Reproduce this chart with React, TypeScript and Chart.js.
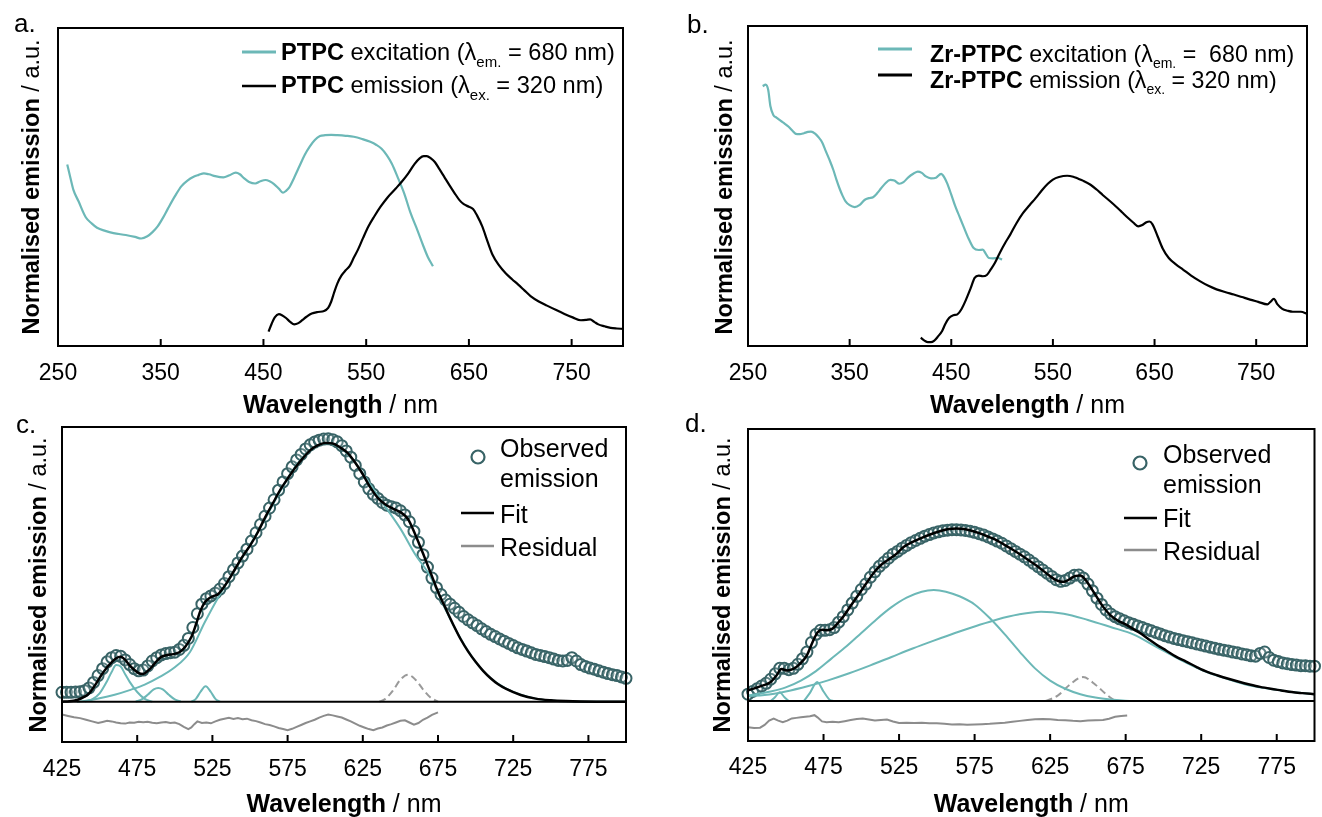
import React, { useEffect, useRef } from "react";
import { Chart, registerables } from "chart.js";

Chart.register(...registerables);

const FONT = "'Liberation Sans', Arial, Helvetica, sans-serif";
const TEAL = "#6cb8b7";
const OBS = "#386366";
const GREY = "#8c8c8c";
const DASH_GREY = "#9a9a9a";

// ---------------- Panel a ----------------
const aTicks = [250, 350, 450, 550, 650, 750];
const aExcitationX = [259, 262, 265, 270, 277, 283, 288, 296, 304, 316, 325, 331, 337, 342, 347, 352, 357, 364, 370, 376, 382, 387, 392, 397, 403, 411, 417, 423, 427, 431, 436, 442, 447, 452, 456, 460, 465, 469, 472, 475, 480, 485, 490, 495, 500, 505, 510, 516, 522, 530, 538, 546, 554, 560, 565, 570, 575, 581, 587, 593, 600, 605, 610, 615];
const aExcitationY = [0.571, 0.53, 0.491, 0.455, 0.405, 0.385, 0.372, 0.362, 0.355, 0.349, 0.343, 0.338, 0.345, 0.358, 0.376, 0.402, 0.432, 0.472, 0.502, 0.52, 0.532, 0.538, 0.543, 0.54, 0.534, 0.53, 0.537, 0.545, 0.54, 0.528, 0.516, 0.511, 0.518, 0.522, 0.518, 0.51, 0.495, 0.482, 0.488, 0.498, 0.53, 0.565, 0.6, 0.627, 0.648, 0.66, 0.663, 0.664, 0.663, 0.661, 0.658, 0.651, 0.642, 0.632, 0.62, 0.6, 0.573, 0.528, 0.48, 0.42, 0.363, 0.32, 0.28, 0.251];
const aEmissionX = [455, 458, 461, 465, 468, 472, 476, 480, 484, 488, 492, 497, 503, 509, 513, 516, 519, 522, 526, 530, 534, 538, 542, 547, 552, 558, 564, 571, 579, 585, 591, 597, 602, 606, 609, 613, 617, 621, 626, 631, 636, 641, 645, 650, 654, 658, 663, 668, 673, 679, 686, 692, 698, 704, 710, 718, 726, 735, 743, 751, 759, 764, 768, 772, 776, 782, 788, 794, 800];
const aEmissionY = [0.045, 0.07, 0.09, 0.1, 0.097, 0.088, 0.076, 0.068, 0.072, 0.082, 0.092, 0.102, 0.107, 0.11, 0.12, 0.14, 0.17, 0.197, 0.222, 0.238, 0.252, 0.278, 0.303, 0.34, 0.375, 0.408, 0.438, 0.468, 0.496, 0.518, 0.543, 0.572, 0.59, 0.597, 0.597, 0.59, 0.578, 0.558, 0.532, 0.506, 0.481, 0.458, 0.446, 0.438, 0.431, 0.41, 0.376, 0.33, 0.287, 0.255, 0.228, 0.21, 0.193, 0.175, 0.157, 0.14, 0.127, 0.113, 0.101, 0.09, 0.081, 0.082, 0.084, 0.076, 0.068, 0.062, 0.057, 0.055, 0.054];

// ---------------- Panel b ----------------
const bTicks = [250, 350, 450, 550, 650, 750];
const bExcitationX = [264.5, 267.4, 269.9, 272, 274.9, 278, 282, 286, 290, 294, 297, 301, 305, 309, 312, 316, 319, 323, 326, 330, 334, 337, 340, 343, 346, 350, 355, 360, 365, 369, 373, 377, 381, 385, 390, 394, 399, 403, 408, 413, 417, 421, 425, 430, 435, 440, 443, 446, 450, 454, 458, 462, 467, 472, 477, 481, 484, 487, 491, 496, 500];
const bExcitationY = [0.812, 0.817, 0.8, 0.75, 0.722, 0.714, 0.704, 0.695, 0.685, 0.672, 0.663, 0.662, 0.665, 0.669, 0.67, 0.664, 0.654, 0.636, 0.613, 0.583, 0.55, 0.52, 0.493, 0.47, 0.452, 0.44, 0.434, 0.441, 0.457, 0.462, 0.465, 0.477, 0.493, 0.508, 0.519, 0.517, 0.507, 0.512, 0.528, 0.539, 0.545, 0.541, 0.53, 0.524, 0.526, 0.538, 0.528, 0.508, 0.473, 0.436, 0.405, 0.374, 0.336, 0.306, 0.3, 0.301, 0.288, 0.275, 0.274, 0.275, 0.27];
const bEmissionX = [420, 424, 427, 430, 433, 437, 441, 444, 448, 452, 456, 460, 464.5, 469, 473, 477, 481, 485, 489, 493, 497.7, 503, 508, 514, 520.5, 527, 533, 539, 545, 550, 556, 564, 570, 574, 580, 587, 593, 599, 606, 612, 618, 624, 629, 634, 638, 642, 645, 648, 653, 658, 664, 671, 678, 686, 695, 703, 711, 720, 728, 736, 744, 752, 761, 764, 767.4, 771, 775.7, 781, 786, 794, 800];
const bEmissionY = [0.026, 0.016, 0.012, 0.012, 0.016, 0.03, 0.047, 0.068, 0.088, 0.096, 0.099, 0.115, 0.145, 0.18, 0.213, 0.22, 0.218, 0.222, 0.24, 0.26, 0.291, 0.322, 0.348, 0.383, 0.415, 0.44, 0.462, 0.486, 0.507, 0.52, 0.528, 0.532, 0.529, 0.524, 0.516, 0.504, 0.489, 0.472, 0.453, 0.436, 0.418, 0.4, 0.386, 0.374, 0.378, 0.387, 0.389, 0.38, 0.343, 0.305, 0.275, 0.255, 0.239, 0.22, 0.202, 0.188, 0.177, 0.168, 0.161, 0.153, 0.145, 0.138, 0.13, 0.138, 0.147, 0.13, 0.116, 0.11, 0.107, 0.107, 0.101];

// ---------------- Panel c ----------------
const cTicks = [425, 475, 525, 575, 625, 675, 725, 775];
const cObservedX = [425, 428, 431, 434, 437, 440, 443, 446, 449, 452, 455, 458, 461, 464, 467, 470, 473, 476, 479, 482, 485, 488, 491, 494, 497, 500, 503, 506, 509, 512, 515, 518, 521, 524, 527, 530, 533, 536, 539, 542, 545, 548, 551, 554, 557, 560, 563, 566, 569, 572, 575, 578, 581, 584, 587, 590, 593, 596, 599, 602, 605, 608, 611, 614, 617, 620, 623, 626, 629, 632, 635, 638, 641, 644, 647, 650, 653, 656, 659, 662, 665, 668, 671, 674, 677, 680, 683, 686, 689, 692, 695, 698, 701, 704, 707, 710, 713, 716, 719, 722, 725, 728, 731, 734, 737, 740, 743, 746, 749, 752, 755, 758, 761, 764, 767, 770, 773, 776, 779, 782, 785, 788, 791, 794, 797, 800];
const cObservedY = [0.034, 0.034, 0.034, 0.035, 0.036, 0.04, 0.05, 0.07, 0.095, 0.12, 0.145, 0.16, 0.168, 0.165, 0.152, 0.135, 0.12, 0.112, 0.115, 0.13, 0.148, 0.16, 0.17, 0.175, 0.178, 0.18, 0.19, 0.205, 0.23, 0.27, 0.32, 0.355, 0.375, 0.385, 0.395, 0.41, 0.43, 0.455, 0.48, 0.505, 0.53, 0.555, 0.585, 0.615, 0.645, 0.675, 0.705, 0.735, 0.77, 0.8, 0.83, 0.855, 0.88, 0.9, 0.92, 0.935, 0.945, 0.952, 0.956, 0.957, 0.954, 0.946, 0.932, 0.913, 0.89, 0.86, 0.83, 0.8, 0.775, 0.755, 0.74, 0.725, 0.715, 0.71, 0.705, 0.695, 0.68, 0.655, 0.62, 0.58, 0.535, 0.49, 0.45, 0.415, 0.39, 0.37, 0.355, 0.34, 0.325, 0.31, 0.298, 0.287, 0.277, 0.265, 0.255, 0.245, 0.237, 0.228, 0.22, 0.212, 0.204, 0.196, 0.19, 0.184, 0.178, 0.172, 0.168, 0.164, 0.16, 0.155, 0.15, 0.148, 0.15, 0.16, 0.148, 0.135, 0.128, 0.122, 0.118, 0.112, 0.107, 0.102, 0.098, 0.095, 0.09, 0.085];
const cFitX = [425, 430, 435, 440, 443, 447, 451, 455, 458, 461, 464, 467, 470, 473, 476, 479, 482, 485, 488, 491, 495, 499, 503, 507, 511, 514, 517, 520, 523, 526, 529, 532, 536, 540, 545, 550, 555, 560, 565, 570, 575, 580, 585, 590, 595, 600, 605, 610, 615, 620, 625, 630, 635, 640, 645, 650, 655, 660, 665, 670, 675, 680, 685, 690, 695, 700, 705, 710, 715, 720, 730, 740, 750, 760, 770, 785, 800];
const cFitY = [0.0, 0.001, 0.006, 0.018, 0.03, 0.06, 0.095, 0.125, 0.143, 0.158, 0.163, 0.152, 0.132, 0.116, 0.104, 0.101, 0.112, 0.128, 0.148, 0.163, 0.17, 0.173, 0.18, 0.2, 0.235, 0.28, 0.33, 0.362, 0.377, 0.385, 0.392, 0.412, 0.445, 0.482, 0.528, 0.568, 0.615, 0.67, 0.72, 0.77, 0.812, 0.852, 0.886, 0.915, 0.933, 0.942, 0.94, 0.925, 0.905, 0.87, 0.828, 0.78, 0.742, 0.718, 0.703, 0.69, 0.665, 0.607, 0.54, 0.47, 0.4, 0.34, 0.282, 0.228, 0.183, 0.145, 0.112, 0.085, 0.063, 0.047, 0.024, 0.011, 0.005, 0.002, 0.0005, 0, 0];
const cBandAX = [440, 445, 450, 455, 458, 461, 464, 467, 470, 475, 480, 485];
const cBandAY = [0, 0.008, 0.03, 0.075, 0.108, 0.133, 0.128, 0.1, 0.072, 0.035, 0.01, 0];
const cBandBX = [474, 478, 482, 486, 489, 492, 496, 500, 504];
const cBandBY = [0, 0.008, 0.025, 0.045, 0.05, 0.045, 0.025, 0.008, 0];
const cBandCX = [511, 514, 517, 520.5, 524, 527, 530];
const cBandCY = [0, 0.01, 0.035, 0.056, 0.035, 0.01, 0];
const cMainX = [435, 440, 450, 460, 470, 480, 490, 500, 510, 520, 530, 540, 550, 560, 570, 580, 590, 600, 610, 620, 630, 640, 650, 660, 670, 680, 690, 700, 710, 720, 730, 740, 750, 760, 770, 800];
const cMainY = [0, 0.002, 0.012, 0.025, 0.042, 0.062, 0.09, 0.125, 0.18, 0.29, 0.39, 0.48, 0.57, 0.665, 0.765, 0.855, 0.915, 0.94, 0.925, 0.87, 0.79, 0.71, 0.63, 0.535, 0.455, 0.335, 0.23, 0.145, 0.085, 0.048, 0.025, 0.011, 0.004, 0.001, 0, 0];
const cDashX = [636, 640, 645, 650, 655, 660, 665, 670, 675];
const cDashY = [0, 0.01, 0.04, 0.08, 0.098, 0.08, 0.045, 0.015, 0];
const cResidualX = [425, 429, 433, 437, 441, 445, 449, 452, 455, 458, 461, 464, 467, 470, 473, 476, 479, 482, 485, 488, 491, 494, 497, 500, 503, 506, 509, 511, 513, 515, 518, 521, 524, 527, 530, 533, 536, 539, 542, 545, 548, 551, 554, 557, 560, 563, 566, 569, 572, 575, 578, 581, 584, 587, 590, 593, 596, 599, 602, 605, 608, 611, 614, 617, 620, 623, 626, 629, 632, 635, 638, 641, 644, 647, 650, 653, 656, 659, 662, 665, 668, 671, 675];
const cResidualY = [-0.047, -0.052, -0.057, -0.06, -0.066, -0.072, -0.078, -0.074, -0.07, -0.072, -0.076, -0.079, -0.08, -0.076, -0.077, -0.073, -0.075, -0.073, -0.077, -0.079, -0.076, -0.074, -0.078, -0.076, -0.082, -0.092, -0.1, -0.094, -0.082, -0.072, -0.078, -0.076, -0.079, -0.072, -0.066, -0.062, -0.059, -0.063, -0.06, -0.064, -0.062, -0.068, -0.071, -0.076, -0.082, -0.085, -0.09, -0.096, -0.1, -0.104, -0.099, -0.092, -0.085, -0.078, -0.072, -0.066, -0.058, -0.052, -0.047, -0.05, -0.054, -0.058, -0.065, -0.072, -0.08, -0.088, -0.094, -0.1, -0.104, -0.098, -0.094, -0.087, -0.082, -0.076, -0.07, -0.068, -0.076, -0.084, -0.078, -0.066, -0.058, -0.048, -0.039];

// ---------------- Panel d ----------------
const dTicks = [425, 475, 525, 575, 625, 675, 725, 775];
const dObservedX = cObservedX;
const dObservedY = [0.025, 0.035, 0.045, 0.055, 0.065, 0.08, 0.1, 0.12, 0.12, 0.115, 0.12, 0.135, 0.155, 0.18, 0.215, 0.245, 0.26, 0.26, 0.262, 0.27, 0.29, 0.31, 0.335, 0.36, 0.385, 0.41, 0.43, 0.455, 0.475, 0.495, 0.51, 0.525, 0.54, 0.55, 0.562, 0.572, 0.582, 0.59, 0.598, 0.606, 0.612, 0.618, 0.622, 0.626, 0.628, 0.63, 0.63, 0.629, 0.627, 0.624, 0.62, 0.615, 0.61, 0.603, 0.596, 0.588, 0.58, 0.57, 0.56, 0.55, 0.54, 0.53, 0.518, 0.506, 0.494, 0.482, 0.47, 0.458, 0.446, 0.44, 0.443, 0.452, 0.462, 0.463, 0.452, 0.43, 0.405, 0.378, 0.355, 0.335, 0.32, 0.31, 0.302, 0.295, 0.288, 0.282, 0.276, 0.27, 0.264, 0.258, 0.252, 0.246, 0.24, 0.235, 0.23, 0.226, 0.222, 0.218, 0.214, 0.21, 0.206, 0.202, 0.198, 0.194, 0.19, 0.187, 0.184, 0.18, 0.177, 0.173, 0.17, 0.166, 0.165, 0.175, 0.18, 0.16, 0.15, 0.145, 0.14, 0.137, 0.134, 0.132, 0.13, 0.13, 0.128, 0.128];
const dFitX = [425, 433, 440, 444, 447, 451, 455, 459, 464, 468, 471, 474, 477, 481, 485, 488, 493, 498, 503, 508, 513, 518, 523, 528, 534, 540, 546, 552, 558, 563, 568, 573, 578, 584, 590, 595, 600, 606, 612, 617, 622, 627, 630, 633, 636, 639, 642, 645, 648, 651, 655, 660, 665, 670, 675, 680, 685, 690, 696, 702, 708, 715, 722, 729, 736, 743, 750, 757, 764, 771, 778, 785, 792, 800];
const dFitY = [0.039, 0.054, 0.07, 0.095, 0.118, 0.112, 0.118, 0.135, 0.168, 0.22, 0.252, 0.262, 0.26, 0.266, 0.29, 0.31, 0.35, 0.39, 0.43, 0.47, 0.5, 0.52, 0.54, 0.566, 0.585, 0.6, 0.613, 0.624, 0.632, 0.634, 0.632, 0.626, 0.617, 0.604, 0.59, 0.573, 0.557, 0.536, 0.513, 0.494, 0.472, 0.451, 0.442, 0.438, 0.442, 0.452, 0.46, 0.461, 0.448, 0.425, 0.39, 0.347, 0.315, 0.295, 0.282, 0.265, 0.248, 0.228, 0.205, 0.185, 0.164, 0.145, 0.125, 0.107, 0.094, 0.082, 0.071, 0.061, 0.052, 0.045, 0.039, 0.033, 0.029, 0.025];
const dBandAX = [425, 440, 450, 460, 470, 480, 490, 500, 510, 520, 530, 540, 548, 556, 565, 575, 585, 595, 605, 615, 625, 635, 645, 655, 665, 680, 800];
const dBandAY = [0.02, 0.035, 0.05, 0.075, 0.11, 0.155, 0.2, 0.25, 0.3, 0.345, 0.38, 0.402, 0.408, 0.402, 0.385, 0.355, 0.305, 0.245, 0.18, 0.12, 0.075, 0.045, 0.025, 0.013, 0.006, 0.0, 0.0];
const dBandBX = [425, 436, 450, 465, 478, 492, 506, 520, 534, 548, 562, 576, 590, 604, 619, 634, 650, 665, 680, 695, 710, 725, 740, 755, 770, 785, 800];
const dBandBY = [0.018, 0.022, 0.035, 0.055, 0.076, 0.102, 0.131, 0.162, 0.193, 0.222, 0.25, 0.276, 0.3, 0.318, 0.328, 0.321, 0.298, 0.272, 0.245, 0.2, 0.155, 0.115, 0.085, 0.06, 0.045, 0.033, 0.025];
const dBandCX = [440, 443, 446, 449, 452];
const dBandCY = [0, 0.015, 0.032, 0.015, 0];
const dBandDX = [462, 466, 470.8, 475, 479, 482];
const dBandDY = [0, 0.03, 0.07, 0.035, 0.005, 0];
const dDashX = [622, 630, 638, 646.7, 655, 662, 668];
const dDashY = [0, 0.02, 0.06, 0.088, 0.06, 0.025, 0];
const dResidualX = [425, 429, 433, 436, 439, 442, 445, 448, 451, 454, 457, 460, 463, 466, 469, 471, 474, 477, 481, 485, 489, 493, 497, 501, 505, 509, 513, 517, 521, 525, 530, 535, 540, 545, 550, 555, 560, 565, 570, 575, 580, 585, 590, 595, 600, 605, 610, 615, 620, 625, 630, 635, 640, 645, 650, 655, 660, 664, 668, 672, 676];
const dResidualY = [-0.096, -0.099, -0.098, -0.088, -0.072, -0.065, -0.072, -0.078, -0.072, -0.064, -0.062, -0.06, -0.058, -0.056, -0.052, -0.06, -0.075, -0.078, -0.076, -0.078, -0.074, -0.07, -0.066, -0.064, -0.068, -0.072, -0.07, -0.068, -0.075, -0.081, -0.08, -0.081, -0.08, -0.082, -0.082, -0.084, -0.086, -0.085, -0.087, -0.086, -0.085, -0.084, -0.082, -0.08, -0.076, -0.073, -0.07, -0.067, -0.066, -0.067, -0.07, -0.071, -0.073, -0.074, -0.072, -0.071, -0.07, -0.065, -0.058, -0.055, -0.053];

// ---------------- helpers ----------------
const pts = (xs: number[], ys: number[]) => xs.map((x, i) => ({ x, y: ys[i] }));

const curve = (xs: number[], ys: number[], color: string, width: number, order: number, extra: any = {}) => ({
  data: pts(xs, ys),
  showLine: true,
  borderColor: color,
  backgroundColor: color,
  borderWidth: width,
  pointRadius: 0,
  pointHoverRadius: 0,
  cubicInterpolationMode: "monotone",
  fill: false,
  order,
  ...extra,
});

const observed = (xs: number[], ys: number[]) => ({
  data: pts(xs, ys),
  showLine: false,
  pointRadius: 5.5,
  pointHoverRadius: 5.5,
  pointBorderColor: OBS,
  pointBackgroundColor: "rgba(255,255,255,0.2)",
  pointBorderWidth: 2,
  order: 20,
  clip: false,
});

type Part = { t: string; b?: boolean; sub?: boolean };
type Marker =
  | { kind: "line"; color: string; width: number; x1: number; x2: number; y: number }
  | { kind: "circle"; x: number; y: number; r: number };
type Row = { x: number; y: number; parts: Part[] };

interface PanelSpec {
  id: string;
  left: number;
  top: number;
  width: number;
  height: number;
  pad: { left: number; top: number; right: number };
  axisHeight: number;
  tickPadding: number;
  xMin: number;
  xMax: number;
  yMin: number;
  yMax: number;
  ticks: number[];
  makeDatasets: () => any[];
  label: { t: string; x: number; y: number };
  xTitleBaseline: number;
  yTitle: { x: number; y: number };
  separator: boolean;
  markers: Marker[];
  rows: Row[];
  legendSize: number;
}

function drawRich(ctx: CanvasRenderingContext2D, parts: Part[], x: number, y: number, size: number, align: "left" | "center") {
  const fontOf = (p: Part) => `${p.b ? "bold " : ""}${p.sub ? Math.round(size * 0.62) : size}px ${FONT}`;
  const widths = parts.map((p) => {
    ctx.font = fontOf(p);
    return ctx.measureText(p.t).width;
  });
  const total = widths.reduce((s, w) => s + w, 0);
  let cx = align === "center" ? x - total / 2 : x;
  ctx.textAlign = "left";
  parts.forEach((p, i) => {
    ctx.font = fontOf(p);
    ctx.fillText(p.t, cx, p.sub ? y + size * 0.28 : y);
    cx += widths[i];
  });
}

function framePlugin(spec: PanelSpec) {
  return {
    id: "frame_" + spec.id,
    afterDatasetsDraw(chart: any) {
      const ctx: CanvasRenderingContext2D = chart.ctx;
      const a = chart.chartArea;
      const xs = chart.scales.x;
      const ys = chart.scales.y;
      ctx.save();
      ctx.strokeStyle = "#000";
      ctx.lineWidth = 2;
      ctx.strokeRect(a.left, a.top, a.right - a.left, a.bottom - a.top);
      if (spec.separator) {
        const y0 = ys.getPixelForValue(0);
        ctx.beginPath();
        ctx.moveTo(a.left, y0);
        ctx.lineTo(a.right, y0);
        ctx.stroke();
      }
      for (const v of spec.ticks) {
        if (v <= spec.xMin || v >= spec.xMax) continue;
        const px = xs.getPixelForValue(v);
        ctx.beginPath();
        ctx.moveTo(px, a.bottom);
        ctx.lineTo(px, a.bottom - 7);
        ctx.stroke();
      }
      ctx.fillStyle = "#000";
      ctx.textBaseline = "alphabetic";
      drawRich(ctx, [{ t: "Wavelength", b: true }, { t: " / nm" }], (a.left + a.right) / 2, spec.xTitleBaseline, 25, "center");
      ctx.save();
      ctx.translate(spec.yTitle.x, spec.yTitle.y);
      ctx.rotate(-Math.PI / 2);
      ctx.textBaseline = "middle";
      drawRich(ctx, [{ t: "Normalised emission", b: true }, { t: " / a.u." }], 0, 0, 23.5, "center");
      ctx.restore();
      ctx.textBaseline = "alphabetic";
      ctx.font = `26px ${FONT}`;
      ctx.textAlign = "left";
      ctx.fillText(spec.label.t, spec.label.x, spec.label.y);
      for (const m of spec.markers) {
        if (m.kind === "line") {
          ctx.strokeStyle = m.color;
          ctx.lineWidth = m.width;
          ctx.beginPath();
          ctx.moveTo(m.x1, m.y);
          ctx.lineTo(m.x2, m.y);
          ctx.stroke();
        } else {
          ctx.strokeStyle = OBS;
          ctx.fillStyle = "#fff";
          ctx.lineWidth = 2.2;
          ctx.beginPath();
          ctx.arc(m.x, m.y, m.r, 0, Math.PI * 2);
          ctx.fill();
          ctx.stroke();
        }
      }
      ctx.fillStyle = "#000";
      for (const r of spec.rows) drawRich(ctx, r.parts, r.x, r.y, spec.legendSize, "left");
      ctx.restore();
    },
  };
}

// ---------------- panel specs ----------------
const panels: PanelSpec[] = [
  {
    id: "a", left: 0, top: 0, width: 660, height: 420,
    pad: { left: 58, top: 28, right: 37 }, axisHeight: 74, tickPadding: 14,
    xMin: 250, xMax: 800, yMin: 0, yMax: 1, ticks: aTicks,
    makeDatasets: () => [
      curve(aEmissionX, aEmissionY, "#000", 2.2, 1),
      curve(aExcitationX, aExcitationY, TEAL, 2.2, 2),
    ],
    label: { t: "a.", x: 14, y: 32 },
    xTitleBaseline: 413,
    yTitle: { x: 33, y: 187 },
    separator: false,
    markers: [
      { kind: "line", color: TEAL, width: 3, x1: 242, x2: 276, y: 52 },
      { kind: "line", color: "#000", width: 2.5, x1: 242, x2: 276, y: 86 },
    ],
    rows: [
      { x: 281, y: 60, parts: [{ t: "PTPC", b: true }, { t: " excitation (λ" }, { t: "em.", sub: true }, { t: " = 680 nm)" }] },
      { x: 281, y: 93, parts: [{ t: "PTPC", b: true }, { t: " emission (λ" }, { t: "ex.", sub: true }, { t: " = 320 nm)" }] },
    ],
    legendSize: 23.6,
  },
  {
    id: "b", left: 660, top: 0, width: 662, height: 420,
    pad: { left: 88, top: 26, right: 15 }, axisHeight: 74, tickPadding: 14,
    xMin: 250, xMax: 800, yMin: 0, yMax: 1, ticks: bTicks,
    makeDatasets: () => [
      curve(bEmissionX, bEmissionY, "#000", 2.2, 1),
      curve(bExcitationX, bExcitationY, TEAL, 2.2, 2),
    ],
    label: { t: "b.", x: 27, y: 33 },
    xTitleBaseline: 413,
    yTitle: { x: 66, y: 187 },
    separator: false,
    markers: [
      { kind: "line", color: TEAL, width: 3, x1: 218, x2: 252, y: 49 },
      { kind: "line", color: "#000", width: 3, x1: 218, x2: 252, y: 75 },
    ],
    rows: [
      { x: 270, y: 62, parts: [{ t: "Zr-PTPC", b: true }, { t: " excitation (λ" }, { t: "em.", sub: true }, { t: " =  680 nm)" }] },
      { x: 270, y: 88, parts: [{ t: "Zr-PTPC", b: true }, { t: " emission (λ" }, { t: "ex.", sub: true }, { t: " = 320 nm)" }] },
    ],
    legendSize: 23.2,
  },
  {
    id: "c", left: 0, top: 410, width: 660, height: 407,
    pad: { left: 62, top: 17, right: 34 }, axisHeight: 75, tickPadding: 14,
    xMin: 425, xMax: 800, yMin: -0.147, yMax: 1, ticks: cTicks,
    makeDatasets: () => [
      curve(cFitX, cFitY, "#000", 2.5, 0),
      curve(cMainX, cMainY, TEAL, 2, 5),
      curve(cBandAX, cBandAY, TEAL, 2, 5),
      curve(cBandBX, cBandBY, TEAL, 2, 5),
      curve(cBandCX, cBandCY, TEAL, 2, 5),
      curve(cDashX, cDashY, DASH_GREY, 2, 5, { borderDash: [7, 4] }),
      curve(cResidualX, cResidualY, GREY, 2, 5, { cubicInterpolationMode: "default", tension: 0 }),
      observed(cObservedX, cObservedY),
    ],
    label: { t: "c.", x: 16, y: 23 },
    xTitleBaseline: 402,
    yTitle: { x: 40, y: 175 },
    separator: true,
    markers: [
      { kind: "circle", x: 478, y: 47, r: 6.5 },
      { kind: "line", color: "#000", width: 2.5, x1: 461, x2: 494, y: 103 },
      { kind: "line", color: GREY, width: 2.5, x1: 461, x2: 494, y: 136 },
    ],
    rows: [
      { x: 500, y: 47, parts: [{ t: "Observed" }] },
      { x: 500, y: 77, parts: [{ t: "emission" }] },
      { x: 500, y: 113, parts: [{ t: "Fit" }] },
      { x: 500, y: 146, parts: [{ t: "Residual" }] },
    ],
    legendSize: 25,
  },
  {
    id: "d", left: 660, top: 410, width: 662, height: 407,
    pad: { left: 88, top: 19, right: 5 }, axisHeight: 76, tickPadding: 13,
    xMin: 425, xMax: 800, yMin: -0.147, yMax: 1, ticks: dTicks,
    makeDatasets: () => [
      curve(dFitX, dFitY, "#000", 2.5, 0),
      curve(dBandAX, dBandAY, TEAL, 2, 5),
      curve(dBandBX, dBandBY, TEAL, 2, 5),
      curve(dBandCX, dBandCY, TEAL, 2, 5),
      curve(dBandDX, dBandDY, TEAL, 2, 5),
      curve(dDashX, dDashY, DASH_GREY, 2, 5, { borderDash: [7, 4] }),
      curve(dResidualX, dResidualY, GREY, 2, 5, { cubicInterpolationMode: "default", tension: 0 }),
      observed(dObservedX, dObservedY),
    ],
    label: { t: "d.", x: 25, y: 22 },
    xTitleBaseline: 402,
    yTitle: { x: 64, y: 175 },
    separator: true,
    markers: [
      { kind: "circle", x: 480, y: 53, r: 6.5 },
      { kind: "line", color: "#000", width: 2.5, x1: 464, x2: 497, y: 108 },
      { kind: "line", color: GREY, width: 2.5, x1: 464, x2: 497, y: 140 },
    ],
    rows: [
      { x: 503, y: 53, parts: [{ t: "Observed" }] },
      { x: 503, y: 83, parts: [{ t: "emission" }] },
      { x: 503, y: 117, parts: [{ t: "Fit" }] },
      { x: 503, y: 150, parts: [{ t: "Residual" }] },
    ],
    legendSize: 25,
  },
];

function Panel({ spec }: { spec: PanelSpec }) {
  const ref = useRef<HTMLCanvasElement>(null);
  useEffect(() => {
    const canvas = ref.current;
    if (!canvas) return;
    const chart = new Chart(canvas, {
      type: "scatter",
      data: { datasets: spec.makeDatasets() },
      options: {
        responsive: false,
        maintainAspectRatio: false,
        animation: false,
        devicePixelRatio: 1,
        layout: { padding: { left: spec.pad.left, top: spec.pad.top, right: spec.pad.right, bottom: 0 } },
        plugins: { legend: { display: false }, tooltip: { enabled: false } },
        events: [],
        scales: {
          x: {
            type: "linear",
            min: spec.xMin,
            max: spec.xMax,
            grid: { display: false, drawTicks: false },
            border: { display: false },
            ticks: {
              autoSkip: false,
              maxRotation: 0,
              padding: spec.tickPadding,
              color: "#000",
              font: { family: FONT, size: 23 },
            },
            afterBuildTicks: (axis: any) => {
              axis.ticks = spec.ticks.map((v) => ({ value: v }));
            },
            afterFit: (axis: any) => {
              axis.height = spec.axisHeight;
            },
          },
          y: { type: "linear", display: false, min: spec.yMin, max: spec.yMax },
        },
      } as any,
      plugins: [framePlugin(spec)],
    });
    return () => chart.destroy();
  }, [spec]);
  return (
    <canvas
      ref={ref}
      width={spec.width}
      height={spec.height}
      style={{ position: "absolute", left: spec.left, top: spec.top, width: spec.width, height: spec.height }}
    />
  );
}

export default function App() {
  return (
    <div style={{ position: "fixed", left: 0, top: 0, width: 1322, height: 817, background: "#fff", overflow: "hidden" }}>
      {panels.map((p) => (
        <Panel key={p.id} spec={p} />
      ))}
    </div>
  );
}
